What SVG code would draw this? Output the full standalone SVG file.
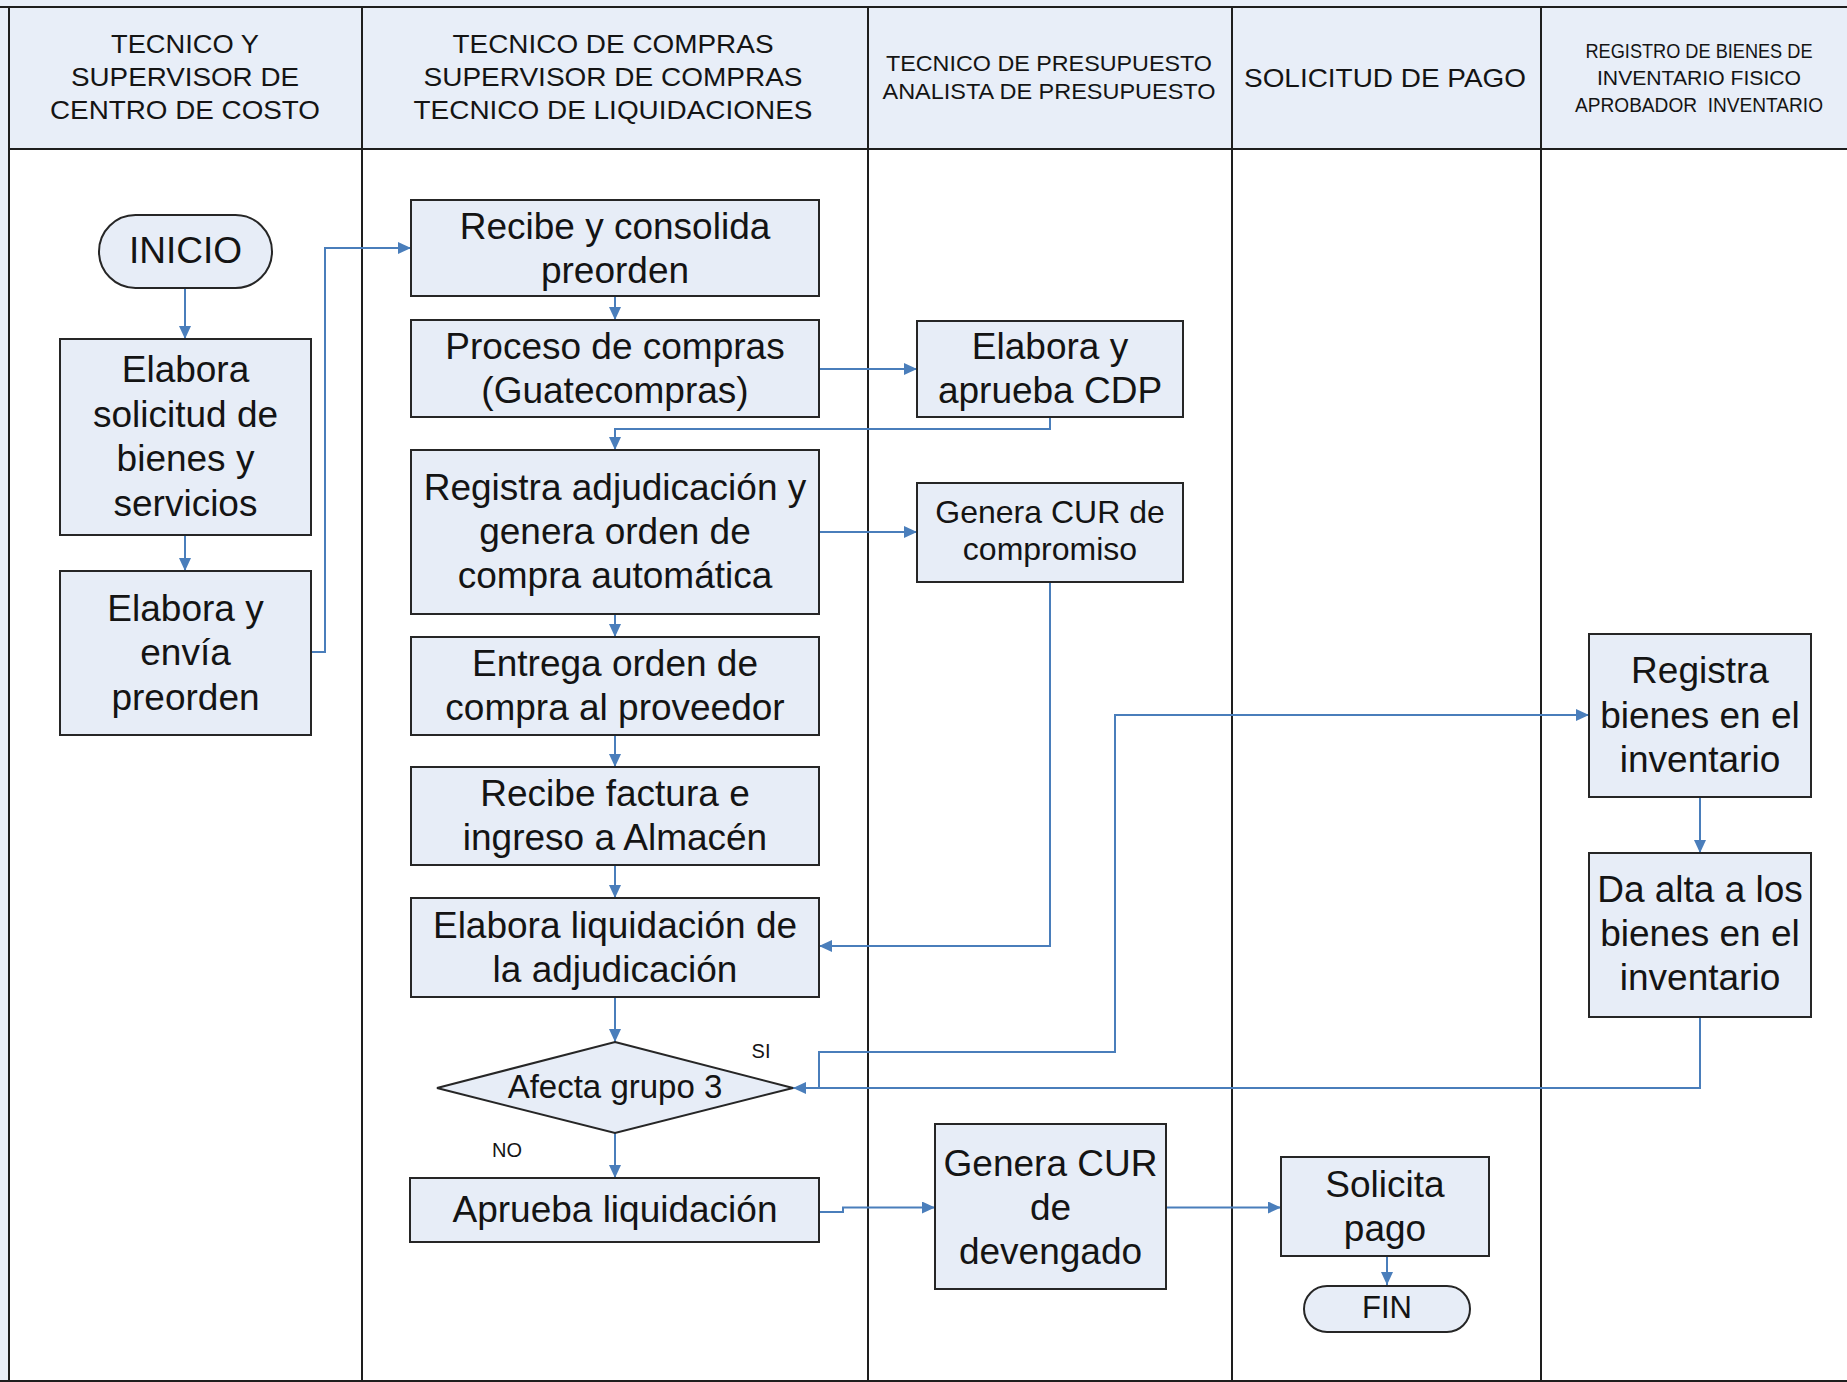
<svg xmlns="http://www.w3.org/2000/svg" width="1847" height="1382" viewBox="0 0 1847 1382">
<style>
.frame{stroke:#1e1e1e;stroke-width:2;fill:none}
.box{fill:#e7edf7;stroke:#262626;stroke-width:2}
.t{font-family:"Liberation Sans",Arial,sans-serif;fill:#141414;text-anchor:middle}
.b{font-size:37px}
.m{font-size:32px}
.h{font-size:26px}
.c{fill:none;stroke:#4a7ebb;stroke-width:2;marker-end:url(#arr)}
.lbl{font-family:"Liberation Sans",Arial,sans-serif;font-size:20px;fill:#141414;text-anchor:middle}
</style>
<defs>
<marker id="arr" markerUnits="userSpaceOnUse" markerWidth="13" markerHeight="12" refX="13" refY="6" orient="auto">
<path d="M0,0 L13,6 L0,12 z" fill="#4a7ebb"/>
</marker>
</defs>
<rect x="0" y="0" width="1847" height="1382" fill="#e8eef8"/>
<rect x="9" y="149" width="1838" height="1232" fill="#ffffff"/>
<g id="lanes">
<line class="frame" x1="0" y1="7" x2="1847" y2="7"/>
<line class="frame" x1="9" y1="149" x2="1847" y2="149"/>
<line class="frame" x1="0" y1="1381" x2="1847" y2="1381"/>
<line class="frame" x1="9" y1="7" x2="9" y2="1382"/>
<line class="frame" x1="362" y1="7" x2="362" y2="1381"/>
<line class="frame" x1="868" y1="7" x2="868" y2="1381"/>
<line class="frame" x1="1232" y1="7" x2="1232" y2="1381"/>
<line class="frame" x1="1541" y1="7" x2="1541" y2="1381"/>
</g>
<g id="headers">
<g id="h1" class="t h">
<text x="185" y="53" textLength="148" lengthAdjust="spacingAndGlyphs">TECNICO Y</text>
<text x="185" y="86" textLength="228" lengthAdjust="spacingAndGlyphs">SUPERVISOR DE</text>
<text x="185" y="119" textLength="270" lengthAdjust="spacingAndGlyphs">CENTRO DE COSTO</text>
</g>
<g id="h2" class="t h">
<text x="613" y="53" textLength="321" lengthAdjust="spacingAndGlyphs">TECNICO DE COMPRAS</text>
<text x="613" y="86" textLength="379" lengthAdjust="spacingAndGlyphs">SUPERVISOR DE COMPRAS</text>
<text x="613" y="119" textLength="399" lengthAdjust="spacingAndGlyphs">TECNICO DE LIQUIDACIONES</text>
</g>
<g id="h3" class="t" style="font-size:22px">
<text x="1049" y="71" textLength="326" lengthAdjust="spacingAndGlyphs">TECNICO DE PRESUPUESTO</text>
<text x="1049" y="99" textLength="333" lengthAdjust="spacingAndGlyphs">ANALISTA DE PRESUPUESTO</text>
</g>
<g id="h4" class="t h">
<text x="1385" y="87" textLength="282" lengthAdjust="spacingAndGlyphs">SOLICITUD DE PAGO</text>
</g>
<g id="h5" class="t" style="font-size:20px">
<text x="1699" y="58" textLength="227" lengthAdjust="spacingAndGlyphs">REGISTRO DE BIENES DE</text>
<text x="1699" y="85" textLength="204" lengthAdjust="spacingAndGlyphs">INVENTARIO FISICO</text>
<text x="1699" y="112" textLength="248" lengthAdjust="spacingAndGlyphs">APROBADOR&#160; INVENTARIO</text>
</g>
</g>
<g id="connectors">
<path class="c" d="M185 288 V339"/>
<path class="c" d="M185 535 V571"/>
<path class="c" d="M311 652 H325 V248 H411"/>
<path class="c" d="M615 296 V320"/>
<path class="c" d="M819 369 H917"/>
<path class="c" d="M1050 417 V429 H615 V450"/>
<path class="c" d="M819 532 H917"/>
<path class="c" d="M615 614 V637"/>
<path class="c" d="M615 735 V767"/>
<path class="c" d="M615 865 V898"/>
<path class="c" d="M1050 582 V946 H819"/>
<path class="c" d="M615 997 V1042"/>
<path class="c" d="M615 1133 V1178"/>
<path class="c" d="M1700 1017 V1088 H793"/>
<path class="c" d="M819 1088 V1052 H1115 V715 H1589"/>
<path class="c" d="M1700 797 V853"/>
<path class="c" d="M819 1212 H843 V1207.5 H935"/>
<path class="c" d="M1166 1207.5 H1281"/>
<path class="c" d="M1387 1256 V1285"/>
<text class="lbl" x="761" y="1058">SI</text>
<text class="lbl" x="507" y="1157">NO</text>
</g>
<g id="inicio">
<rect class="box" x="99" y="215" width="173" height="73" rx="36.5"/>
<text class="t b" x="185.5" y="263">INICIO</text>
</g>
<g id="elabora-solicitud">
<rect class="box" x="60" y="339" width="251" height="196"/>
<text class="t b" x="185.5" y="382">Elabora</text>
<text class="t b" x="185.5" y="426.5">solicitud de</text>
<text class="t b" x="185.5" y="471">bienes y</text>
<text class="t b" x="185.5" y="515.5">servicios</text>
</g>
<g id="elabora-envia">
<rect class="box" x="60" y="571" width="251" height="164"/>
<text class="t b" x="185.5" y="621">Elabora y</text>
<text class="t b" x="185.5" y="665">envía</text>
<text class="t b" x="185.5" y="709.5">preorden</text>
</g>
<g id="recibe-consolida">
<rect class="box" x="411" y="200" width="408" height="96"/>
<text class="t b" x="615" y="238.5">Recibe y consolida</text>
<text class="t b" x="615" y="283">preorden</text>
</g>
<g id="proceso-compras">
<rect class="box" x="411" y="320" width="408" height="97"/>
<text class="t b" x="615" y="359">Proceso de compras</text>
<text class="t b" x="615" y="403">(Guatecompras)</text>
</g>
<g id="registra-adjudicacion">
<rect class="box" x="411" y="450" width="408" height="164"/>
<text class="t b" x="615" y="500">Registra adjudicación y</text>
<text class="t b" x="615" y="544">genera orden de</text>
<text class="t b" x="615" y="588">compra automática</text>
</g>
<g id="entrega-orden">
<rect class="box" x="411" y="637" width="408" height="98"/>
<text class="t b" x="615" y="676">Entrega orden de</text>
<text class="t b" x="615" y="720">compra al proveedor</text>
</g>
<g id="recibe-factura">
<rect class="box" x="411" y="767" width="408" height="98"/>
<text class="t b" x="615" y="806">Recibe factura e</text>
<text class="t b" x="615" y="850">ingreso a Almacén</text>
</g>
<g id="elabora-liquidacion">
<rect class="box" x="411" y="898" width="408" height="99"/>
<text class="t b" x="615" y="938">Elabora liquidación de</text>
<text class="t b" x="615" y="982">la adjudicación</text>
</g>
<g id="afecta-grupo">
<polygon class="box" points="615,1042 793,1088 615,1133 437,1088"/>
<text class="t" style="font-size:33px" x="615" y="1098">Afecta grupo 3</text>
</g>
<g id="aprueba-liquidacion">
<rect class="box" x="410" y="1178" width="409" height="64"/>
<text class="t b" x="615" y="1222">Aprueba liquidación</text>
</g>
<g id="elabora-cdp">
<rect class="box" x="917" y="321" width="266" height="96"/>
<text class="t b" x="1050" y="358.5">Elabora y</text>
<text class="t b" x="1050" y="402.5">aprueba CDP</text>
</g>
<g id="cur-compromiso">
<rect class="box" x="917" y="483" width="266" height="99"/>
<text class="t m" x="1050" y="522.5">Genera CUR de</text>
<text class="t m" x="1050" y="559.5">compromiso</text>
</g>
<g id="cur-devengado">
<rect class="box" x="935" y="1124" width="231" height="165"/>
<text class="t b" x="1050.5" y="1175.5">Genera CUR</text>
<text class="t b" x="1050.5" y="1219.5">de</text>
<text class="t b" x="1050.5" y="1263.5">devengado</text>
</g>
<g id="solicita-pago">
<rect class="box" x="1281" y="1157" width="208" height="99"/>
<text class="t b" x="1385" y="1196.5">Solicita</text>
<text class="t b" x="1385" y="1240.5">pago</text>
</g>
<g id="fin">
<rect class="box" x="1304" y="1286" width="166" height="46" rx="23"/>
<text class="t" style="font-size:31px" x="1387" y="1318">FIN</text>
</g>
<g id="registra-bienes">
<rect class="box" x="1589" y="634" width="222" height="163"/>
<text class="t b" x="1700" y="682.5">Registra</text>
<text class="t b" x="1700" y="727.5">bienes en el</text>
<text class="t b" x="1700" y="771.5">inventario</text>
</g>
<g id="da-alta">
<rect class="box" x="1589" y="853" width="222" height="164"/>
<text class="t b" x="1700" y="901.5">Da alta a los</text>
<text class="t b" x="1700" y="946">bienes en el</text>
<text class="t b" x="1700" y="990">inventario</text>
</g>
</svg>
